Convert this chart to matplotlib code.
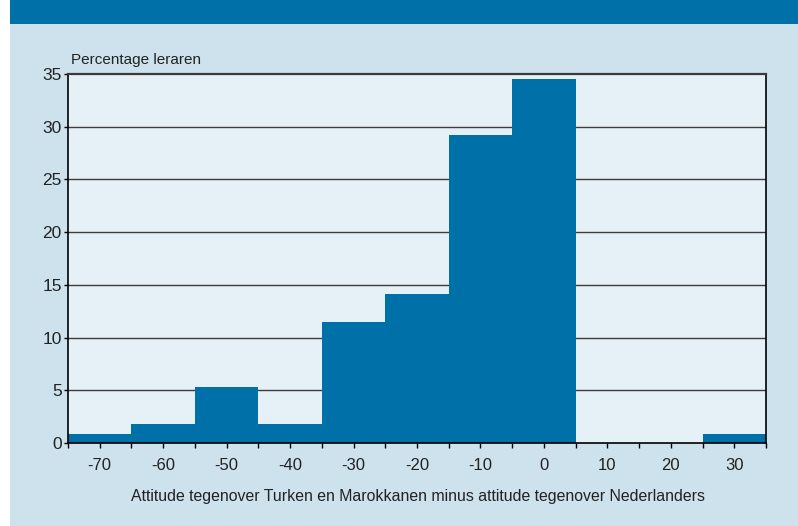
import numpy as np
import matplotlib
matplotlib.use('Agg')
import matplotlib.pyplot as plt
from matplotlib.patches import Rectangle

# ================================ data ================================
bin_centers = [-70, -60, -50, -40, -30, -20, -10, 0, 10, 20, 30]
percentages = [0.9, 1.8, 5.3, 1.8, 11.5, 14.1, 29.2, 34.5, 0.0, 0.0, 0.9]
x_ticklabels = [-70, -60, -50, -40, -30, -20, -10, 0, 10, 20, 30]
y_ticks = [0, 5, 10, 15, 20, 25, 30, 35]
y_title = 'Percentage leraren'
x_title = 'Attitude tegenover Turken en Marokkanen minus attitude tegenover Nederlanders'

# ================================ colours ================================
blue = '#0071a8'
bg = '#cde2ed'
plot_bg = '#e6f0f7'

plt.rcParams['font.family'] = ['Liberation Sans', 'DejaVu Sans']

W, H = 798, 526
fig = plt.figure(figsize=(W / 100, H / 100), dpi=100, facecolor='white')

# achtergrond en banner (achter de assen)
fig.patches.append(Rectangle((10 / W, 0), 1 - 10 / W, 1 - 24 / H, transform=fig.transFigure,
                             facecolor=bg, edgecolor='none', zorder=-10))
fig.patches.append(Rectangle((10 / W, 1 - 24 / H), 1 - 10 / W, 24 / H, transform=fig.transFigure,
                             facecolor=blue, edgecolor='none', zorder=-10))

left, right, top, bottom = 68, 766, 74, 443
ax = fig.add_axes([left / W, 1 - bottom / H, (right - left) / W, (bottom - top) / H])
ax.set_facecolor(plot_bg)

# raster
for y in y_ticks[1:-1]:
    ax.axhline(y, color='#3c3c3c', lw=1.0, zorder=1)

ax.bar(bin_centers, percentages, width=10, color=blue, edgecolor='none', zorder=2)

ax.set_xlim(-75, 35)
ax.set_ylim(0, 35)

# labels op de hoofdstreepjes, tussenstreepjes op de klassegrenzen
ax.set_xticks(x_ticklabels)
ax.set_xticklabels([str(v) for v in x_ticklabels])
ax.set_xticks(np.arange(-75, 36, 10), minor=True)
ax.tick_params(axis='x', which='both', direction='out', length=3.8, width=1, color='black')
ax.tick_params(axis='x', which='major', pad=7, labelsize=12, labelcolor='#222222')

ax.set_yticks(y_ticks)
ax.set_yticklabels([str(v) for v in y_ticks])
ax.tick_params(axis='y', direction='out', length=3, width=1, color='black', pad=1.5,
               labelsize=12.5, labelcolor='#222222')

for side in ['left', 'bottom', 'right']:
    ax.spines[side].set_color('black')
    ax.spines[side].set_linewidth(1.2)
ax.spines['top'].set_color('#3a3a3a')
ax.spines['top'].set_linewidth(1.6)

fig.text(71 / W, 1 - 60 / H, y_title, fontsize=11, color='#222222', va='center', ha='left')
fig.text(418 / W, 1 - 497 / H, x_title, fontsize=11.4, color='#222222', va='center', ha='center')

plt.savefig('out.png', dpi=100, facecolor=fig.get_facecolor())
